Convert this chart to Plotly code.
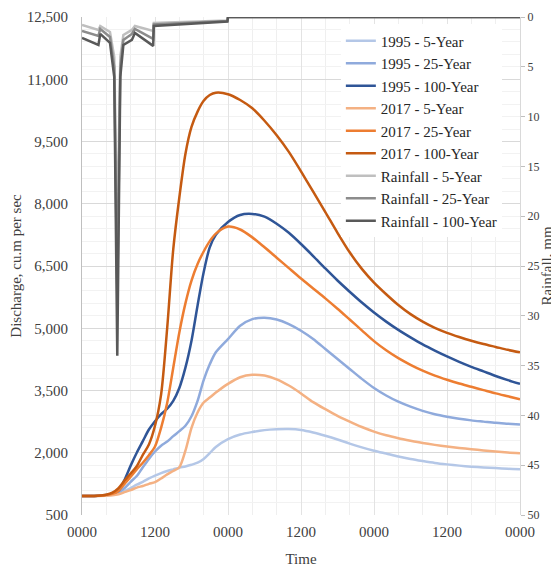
import plotly.graph_objects as go

# ---------------- data ----------------
hours = [0, 2, 4, 5, 6, 7, 8, 9, 10, 11, 12, 13, 14, 15, 16, 17, 18, 19, 20, 21, 22,
         24, 26, 28, 30, 32, 34, 36, 38, 40, 42, 44, 46, 48, 50, 52, 54, 56, 58, 60,
         62, 64, 66, 68, 70, 72]

q1995_5 = [960, 960, 970, 985, 1020, 1080, 1150, 1230, 1300, 1380, 1450, 1510, 1560, 1600,
           1640, 1670, 1710, 1760, 1850, 1990, 2140,
           2330, 2440, 2500, 2545, 2565, 2570, 2550, 2490, 2410, 2320, 2220, 2130, 2050,
           1980, 1910, 1850, 1800, 1755, 1720, 1690, 1665, 1645, 1630, 1612, 1600]
q1995_25 = [960, 960, 975, 1000, 1050, 1150, 1300, 1440, 1650, 1850, 2030, 2170, 2270, 2400,
            2520, 2650, 2880, 3250, 3750, 4130, 4420,
            4740, 5060, 5220, 5255, 5210, 5100, 4940, 4740, 4500, 4260, 4020, 3780, 3560,
            3380, 3230, 3110, 3010, 2930, 2870, 2820, 2780, 2750, 2720, 2700, 2680]
q1995_100 = [960, 960, 980, 1010, 1090, 1350, 1690, 2000, 2280, 2560, 2760, 2930, 3060, 3250,
             3560, 4050, 4700, 5550, 6350, 6950, 7250,
             7560, 7730, 7755, 7690, 7520, 7300, 7030, 6740, 6440, 6150, 5880, 5620, 5380,
             5160, 4960, 4780, 4610, 4460, 4320, 4190, 4070, 3960, 3850, 3750, 3660]
q2017_5 = [960, 960, 965, 975, 1000, 1050, 1100, 1160, 1200, 1250, 1290, 1380, 1480, 1560,
           1650, 2050, 2600, 2970, 3210, 3330, 3450,
           3660, 3820, 3880, 3860, 3770, 3620, 3430, 3220, 3050, 2890, 2750, 2620, 2510,
           2420, 2350, 2290, 2235, 2190, 2150, 2115, 2085, 2055, 2030, 2005, 1985]
q2017_25 = [960, 960, 985, 1010, 1080, 1250, 1420, 1600, 1760, 1940, 2150, 2600, 3200, 4050,
            4900, 5600, 6150, 6550, 6850, 7100, 7280,
            7450, 7380, 7190, 6950, 6700, 6450, 6200, 5960, 5720, 5470, 5210, 4950, 4690,
            4470, 4280, 4120, 3980, 3860, 3760, 3670, 3590, 3510, 3430, 3360, 3290]
q2017_100 = [960, 960, 990, 1040, 1150, 1330, 1500, 1677, 1950, 2200, 2650, 3400, 5000, 6900,
             8150, 9200, 9850, 10220, 10480, 10620, 10675,
             10640, 10500, 10300, 10000, 9650, 9250, 8780, 8290, 7800, 7300, 6830, 6430, 6100,
             5820, 5560, 5340, 5160, 5010, 4890, 4790, 4700, 4620, 4550, 4480, 4420]

rain_hours = [0, 2.7, 3.0, 4.6, 5.3, 5.8, 6.3, 6.8, 8.2, 8.7, 11.7, 11.8, 23.9, 24.0, 72]
rain_5 = [0.8, 1.3, 0.9, 1.5, 4, 22, 4, 1.8, 1.3, 0.9, 1.4, 0.6, 0.35, 0, 0]
rain_25 = [1.4, 1.9, 1.2, 2.0, 5, 28, 5, 2.3, 1.7, 1.2, 2.2, 0.75, 0.4, 0, 0]
rain_100 = [2.1, 2.8, 1.7, 2.6, 6, 34, 6, 2.8, 2.3, 1.6, 2.9, 0.9, 0.45, 0, 0]

x_tick_hours = [0, 12, 24, 36, 48, 60, 72]
x_tick_labels = ["0000", "1200", "0000", "1200", "0000", "1200", "0000"]

discharge_series = [
    ("1995 - 5-Year", q1995_5, "#B4C7E7"),
    ("1995 - 25-Year", q1995_25, "#8FAADC"),
    ("1995 - 100-Year", q1995_100, "#2F5597"),
    ("2017 - 5-Year", q2017_5, "#F4B183"),
    ("2017 - 25-Year", q2017_25, "#ED7D31"),
    ("2017 - 100-Year", q2017_100, "#C55A11"),
]
rain_series = [
    ("Rainfall - 5-Year", rain_5, "#BFBFBF"),
    ("Rainfall - 25-Year", rain_25, "#8C8C8C"),
    ("Rainfall - 100-Year", rain_100, "#595959"),
]

# ---------------- figure ----------------
fig = go.Figure()
for name, vals, col in discharge_series:
    fig.add_trace(go.Scatter(x=hours, y=vals, name=name, mode="lines",
                             line=dict(color=col, width=2.5, shape="spline", smoothing=0.8),
                             yaxis="y"))
for name, vals, col in rain_series:
    fig.add_trace(go.Scatter(x=rain_hours, y=vals, name=name, mode="lines",
                             line=dict(color=col, width=2.5),
                             yaxis="y2"))

font_family = "Liberation Serif, Times New Roman, serif"
txt = "#404040"

# the page body adds an 8px offset, so the figure is 8px smaller than the window
fig.update_layout(
    width=551, height=562,
    margin=dict(l=74, r=39, t=9, b=55, autoexpand=False),
    paper_bgcolor="white", plot_bgcolor="white",
    font=dict(family=font_family, size=15, color=txt),
    showlegend=True,
    legend=dict(x=0.591, y=0.985, xanchor="left", yanchor="top",
                bgcolor="white", borderwidth=0,
                font=dict(family=font_family, size=15, color="#262626")),
    xaxis=dict(range=[0, 72], tickmode="array", tickvals=x_tick_hours, ticktext=x_tick_labels,
               showgrid=True, gridcolor="#e3e3e3", gridwidth=1,
               minor=dict(tickmode="linear", tick0=0, dtick=4, showgrid=True,
                          gridcolor="#efefef", gridwidth=1),
               zeroline=False, showline=False, ticks="", automargin=False,
               ticklabelstandoff=6,
               tickfont=dict(size=15, color=txt),
               title=dict(text="Time", font=dict(size=15, color=txt), standoff=14)),
    yaxis=dict(range=[500, 12500], tickmode="linear", tick0=500, dtick=1500,
               tickformat=",", showgrid=True, gridcolor="#d9d9d9", gridwidth=1,
               minor=dict(tickmode="linear", tick0=500, dtick=300, showgrid=True,
                          gridcolor="#f2f2f2", gridwidth=1),
               zeroline=False, showline=True, linecolor="#bfbfbf", linewidth=1,
               ticks="", ticklabelstandoff=10, automargin=False,
               tickfont=dict(size=15, color=txt),
               title=dict(text="Discharge, cu.m per sec", font=dict(size=15, color=txt),
                          standoff=3)),
    yaxis2=dict(range=[50, 0], overlaying="y", side="right", tickmode="linear",
                tick0=0, dtick=5, showgrid=False, zeroline=False,
                showline=True, linecolor="#d9d9d9", linewidth=1,
                ticks="outside", ticklen=4, tickcolor="#bfbfbf", automargin=False,
                tickfont=dict(size=12, color=txt),
                title=dict(text="Rainfall, mm", font=dict(size=15, color=txt), standoff=0)),
)

fig.write_html("out.html")
